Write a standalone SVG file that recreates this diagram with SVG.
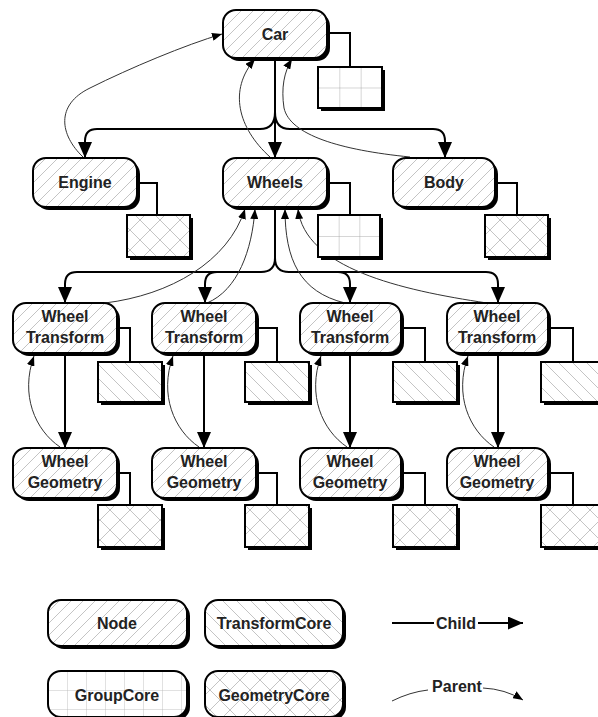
<svg xmlns="http://www.w3.org/2000/svg" width="598" height="717" viewBox="0 0 598 717">
<style>
.box{stroke:#000;stroke-width:2}
.sh{fill:#000}
.lbl{font-family:"Liberation Sans",Arial,sans-serif;font-weight:bold;font-size:16px;fill:#222;text-anchor:middle}
.child{fill:none;stroke:#000;stroke-width:2}
.parent{fill:none;stroke:#333;stroke-width:1}
.link{fill:none;stroke:#000;stroke-width:2}
.pl{stroke:#b5b5b5;stroke-width:0.8;fill:none}
</style>
<defs>
<pattern id="pNode" patternUnits="userSpaceOnUse" width="12" height="12">
<rect width="12" height="12" fill="#fff"/>
<path class="pl" d="M0,12 L12,0 M-3,3 L3,-3 M9,15 L15,9"/>
</pattern>
<pattern id="pTrans" patternUnits="userSpaceOnUse" width="14" height="14">
<rect width="14" height="14" fill="#fff"/>
<path class="pl" d="M0,0 L14,14 M-3,11 L3,17 M11,-3 L17,3"/>
</pattern>
<pattern id="pGeom" patternUnits="userSpaceOnUse" width="20" height="20">
<rect width="20" height="20" fill="#fff"/>
<path class="pl" d="M0,0 L20,20 M20,0 L0,20"/>
</pattern>
<pattern id="pGroup" patternUnits="objectBoundingBox" width="0.3333" height="0.5">
<rect width="40" height="40" fill="#fff"/>
<path class="pl" d="M0,0 V40 M0,0 H40" style="stroke:#999"/>
</pattern>
<pattern id="pGroupL" patternUnits="userSpaceOnUse" width="19" height="19" x="48" y="671">
<rect width="19" height="19" fill="#fff"/>
<path class="pl" d="M0,0 V19 M0,0 H19"/>
</pattern>
<marker id="mChild" viewBox="0 0 16 14" refX="16" refY="7" markerWidth="16" markerHeight="14" markerUnits="userSpaceOnUse" orient="auto">
<path d="M0,0 L16,7 L0,14 z" fill="#000"/>
</marker>
<marker id="mChildS" viewBox="0 0 15 13" refX="15" refY="6.5" markerWidth="15" markerHeight="13" markerUnits="userSpaceOnUse" orient="auto">
<path d="M0,0 L15,6.5 L0,13 z" fill="#000"/>
</marker>
<marker id="mParent" viewBox="0 0 10 8" refX="10" refY="4" markerWidth="10" markerHeight="8" markerUnits="userSpaceOnUse" orient="auto">
<path d="M0,0 L10,4 L0,8 z" fill="#000"/>
</marker>
</defs>
<rect width="598" height="717" fill="#fff"/>

<g id="connectors">
<path class="child" d="M275,58 V158" marker-end="url(#mChild)"/>
<path class="child" d="M275,112 Q275,129 260,129 H97 Q85,129 85,141 V158" marker-end="url(#mChild)"/>
<path class="child" d="M275,112 Q275,129 290,129 H433 Q445,129 445,141 V158" marker-end="url(#mChild)"/>
<path class="child" d="M275,207 V258 Q275,272 261,272 H77 Q65,272 65,284 V303" marker-end="url(#mChild)"/>
<path class="child" d="M217,272 Q205,272 205,284 V303" marker-end="url(#mChild)"/>
<path class="child" d="M275,258 Q275,272 289,272 H486 Q498,272 498,284 V303" marker-end="url(#mChild)"/>
<path class="child" d="M338,272 Q350,272 350,284 V303" marker-end="url(#mChild)"/>
<path class="child" d="M65,353 V448" marker-end="url(#mChild)"/>
<path class="child" d="M204,353 V448" marker-end="url(#mChild)"/>
<path class="child" d="M350,353 V448" marker-end="url(#mChild)"/>
<path class="child" d="M498,353 V448" marker-end="url(#mChild)"/>
<path class="parent" d="M83,157 C60,135 55,105 90,88 C130,68 185,45 222,34" marker-end="url(#mParent)"/>
<path class="parent" d="M270,157 C238,128 228,90 255,59" marker-end="url(#mParent)"/>
<path class="parent" d="M410,157 C340,150 290,135 284,108 C281,88 284,72 292,59" marker-end="url(#mParent)"/>
<path class="parent" d="M105,303 C170,295 228,262 245,209" marker-end="url(#mParent)"/>
<path class="parent" d="M207,303 C238,290 252,250 255,209" marker-end="url(#mParent)"/>
<path class="parent" d="M345,303 C300,292 285,260 285,209" marker-end="url(#mParent)"/>
<path class="parent" d="M487,303 C400,290 305,268 298,209" marker-end="url(#mParent)"/>
<path class="parent" d="M60,447 C35,430 20,395 34,356" marker-end="url(#mParent)"/>
<path class="parent" d="M199,447 C174,430 159,395 173,356" marker-end="url(#mParent)"/>
<path class="parent" d="M347,447 C322,430 307,395 321,356" marker-end="url(#mParent)"/>
<path class="parent" d="M494,447 C469,430 454,395 468,356" marker-end="url(#mParent)"/>
<path class="link" d="M327,33 H350 V67"/>
<path class="link" d="M137,183 H157 V215"/>
<path class="link" d="M327,183 H350 V215"/>
<path class="link" d="M495,183 H517 V215"/>
<path class="link" d="M117,328 H130 V362"/>
<path class="link" d="M256,328 H277 V362"/>
<path class="link" d="M404,328 H425 V362"/>
<path class="link" d="M551,328 H573 V362"/>
<path class="link" d="M117,473 H130 V505"/>
<path class="link" d="M256,473 H277 V505"/>
<path class="link" d="M404,473 H425 V505"/>
<path class="link" d="M551,473 H573 V505"/>
</g>

<g id="car">
<rect class="sh" x="226" y="13" width="104" height="48" rx="13"/>
<rect class="box" x="223" y="10" width="104" height="48" rx="13" fill="url(#pNode)"/>
<text class="lbl" x="275" y="40">Car</text>
</g>
<g id="car-core">
<rect class="sh" x="321" y="70" width="64" height="41"/>
<rect class="box" x="318" y="67" width="64" height="41" fill="url(#pGroup)"/>
</g>

<g id="engine">
<rect class="sh" x="36" y="161" width="104" height="49" rx="13"/>
<rect class="box" x="33" y="158" width="104" height="49" rx="13" fill="url(#pNode)"/>
<text class="lbl" x="85" y="188">Engine</text>
</g>
<g id="engine-core">
<rect class="sh" x="130" y="218" width="63" height="42"/>
<rect class="box" x="127" y="215" width="63" height="42" fill="url(#pGeom)"/>
</g>

<g id="wheels">
<rect class="sh" x="226" y="161" width="104" height="49" rx="13"/>
<rect class="box" x="223" y="158" width="104" height="49" rx="13" fill="url(#pNode)"/>
<text class="lbl" x="275" y="188">Wheels</text>
</g>
<g id="wheels-core">
<rect class="sh" x="321" y="218" width="62" height="42"/>
<rect class="box" x="318" y="215" width="62" height="42" fill="url(#pGroup)"/>
</g>

<g id="body">
<rect class="sh" x="396" y="161" width="102" height="49" rx="13"/>
<rect class="box" x="393" y="158" width="102" height="49" rx="13" fill="url(#pNode)"/>
<text class="lbl" x="444" y="188">Body</text>
</g>
<g id="body-core">
<rect class="sh" x="488" y="218" width="63" height="42"/>
<rect class="box" x="485" y="215" width="63" height="42" fill="url(#pGeom)"/>
</g>

<g id="wt1">
<rect class="sh" x="16" y="306" width="104" height="50" rx="13"/>
<rect class="box" x="13" y="303" width="104" height="50" rx="13" fill="url(#pNode)"/>
<text class="lbl" x="65" y="322">Wheel</text>
<text class="lbl" x="65" y="343">Transform</text>
</g>
<g id="wt1-core">
<rect class="sh" x="101" y="365" width="64" height="40"/>
<rect class="box" x="98" y="362" width="64" height="40" fill="url(#pTrans)"/>
</g>
<g id="wt2">
<rect class="sh" x="155" y="306" width="104" height="50" rx="13"/>
<rect class="box" x="152" y="303" width="104" height="50" rx="13" fill="url(#pNode)"/>
<text class="lbl" x="204" y="322">Wheel</text>
<text class="lbl" x="204" y="343">Transform</text>
</g>
<g id="wt2-core">
<rect class="sh" x="248" y="365" width="64" height="40"/>
<rect class="box" x="245" y="362" width="64" height="40" fill="url(#pTrans)"/>
</g>
<g id="wt3">
<rect class="sh" x="303" y="306" width="101" height="50" rx="13"/>
<rect class="box" x="300" y="303" width="101" height="50" rx="13" fill="url(#pNode)"/>
<text class="lbl" x="350" y="322">Wheel</text>
<text class="lbl" x="350" y="343">Transform</text>
</g>
<g id="wt3-core">
<rect class="sh" x="396" y="365" width="64" height="40"/>
<rect class="box" x="393" y="362" width="64" height="40" fill="url(#pTrans)"/>
</g>
<g id="wt4">
<rect class="sh" x="450" y="306" width="101" height="50" rx="13"/>
<rect class="box" x="447" y="303" width="101" height="50" rx="13" fill="url(#pNode)"/>
<text class="lbl" x="497" y="322">Wheel</text>
<text class="lbl" x="497" y="343">Transform</text>
</g>
<g id="wt4-core">
<rect class="sh" x="544" y="365" width="64" height="40"/>
<rect class="box" x="541" y="362" width="64" height="40" fill="url(#pTrans)"/>
</g>

<g id="wg1">
<rect class="sh" x="16" y="451" width="104" height="50" rx="13"/>
<rect class="box" x="13" y="448" width="104" height="50" rx="13" fill="url(#pNode)"/>
<text class="lbl" x="65" y="467">Wheel</text>
<text class="lbl" x="65" y="488">Geometry</text>
</g>
<g id="wg1-core">
<rect class="sh" x="101" y="508" width="64" height="42"/>
<rect class="box" x="98" y="505" width="64" height="42" fill="url(#pGeom)"/>
</g>
<g id="wg2">
<rect class="sh" x="155" y="451" width="104" height="50" rx="13"/>
<rect class="box" x="152" y="448" width="104" height="50" rx="13" fill="url(#pNode)"/>
<text class="lbl" x="204" y="467">Wheel</text>
<text class="lbl" x="204" y="488">Geometry</text>
</g>
<g id="wg2-core">
<rect class="sh" x="248" y="508" width="64" height="42"/>
<rect class="box" x="245" y="505" width="64" height="42" fill="url(#pGeom)"/>
</g>
<g id="wg3">
<rect class="sh" x="303" y="451" width="101" height="50" rx="13"/>
<rect class="box" x="300" y="448" width="101" height="50" rx="13" fill="url(#pNode)"/>
<text class="lbl" x="350" y="467">Wheel</text>
<text class="lbl" x="350" y="488">Geometry</text>
</g>
<g id="wg3-core">
<rect class="sh" x="396" y="508" width="64" height="42"/>
<rect class="box" x="393" y="505" width="64" height="42" fill="url(#pGeom)"/>
</g>
<g id="wg4">
<rect class="sh" x="450" y="451" width="101" height="50" rx="13"/>
<rect class="box" x="447" y="448" width="101" height="50" rx="13" fill="url(#pNode)"/>
<text class="lbl" x="497" y="467">Wheel</text>
<text class="lbl" x="497" y="488">Geometry</text>
</g>
<g id="wg4-core">
<rect class="sh" x="544" y="508" width="64" height="42"/>
<rect class="box" x="541" y="505" width="64" height="42" fill="url(#pGeom)"/>
</g>

<g id="legend-node">
<rect class="sh" x="51" y="603" width="139" height="46" rx="13"/>
<rect class="box" x="48" y="600" width="139" height="46" rx="13" fill="url(#pNode)"/>
<text class="lbl" x="117" y="629">Node</text>
</g>
<g id="legend-transformcore">
<rect class="sh" x="208" y="603" width="138" height="46" rx="13"/>
<rect class="box" x="205" y="600" width="138" height="46" rx="13" fill="url(#pTrans)"/>
<text class="lbl" x="274" y="629">TransformCore</text>
</g>
<g id="legend-groupcore">
<rect class="sh" x="51" y="674" width="139" height="46" rx="13"/>
<rect class="box" x="48" y="671" width="139" height="46" rx="13" fill="url(#pGroupL)"/>
<text class="lbl" x="117" y="701">GroupCore</text>
</g>
<g id="legend-geometrycore">
<rect class="sh" x="208" y="674" width="138" height="46" rx="13"/>
<rect class="box" x="205" y="671" width="138" height="46" rx="13" fill="url(#pGeom)"/>
<text class="lbl" x="274" y="701">GeometryCore</text>
</g>
<g id="legend-child">
<path class="child" d="M392,623 H434"/>
<text class="lbl" x="456" y="629">Child</text>
<path class="child" d="M478,623 H523" marker-end="url(#mChildS)"/>
</g>
<g id="legend-parent">
<path class="parent" d="M392,701 Q410,692 428,690"/>
<text class="lbl" x="457" y="692">Parent</text>
<path class="parent" d="M483,688 Q505,689 523,700" marker-end="url(#mParent)"/>
</g>
</svg>
